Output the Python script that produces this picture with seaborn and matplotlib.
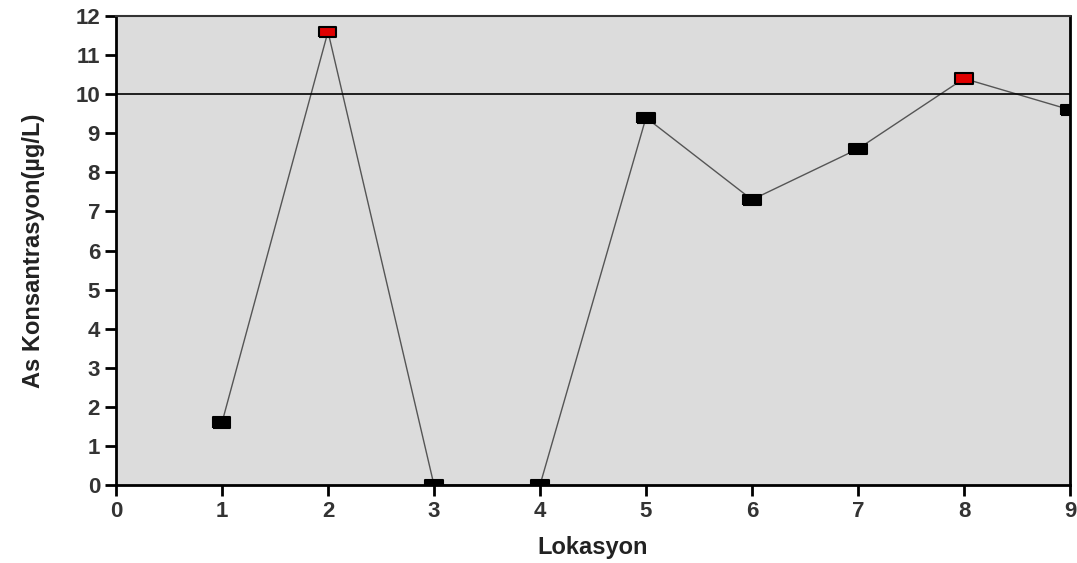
import matplotlib
matplotlib.use("Agg")
import matplotlib.pyplot as plt
import seaborn as sns
import pandas as pd

lokasyon = [1, 2, 3, 4, 5, 6, 7, 8, 9]
konsantrasyon = [1.6, 11.6, 0.0, 0.0, 9.4, 7.3, 8.6, 10.4, 9.6]
limit = 10
x_ticks = list(range(0, 10))
y_ticks = list(range(0, 13))

df = pd.DataFrame({"Lokasyon": lokasyon, "As": konsantrasyon})
df["asim"] = df["As"] > limit

sns.set_style("white")
plt.rcParams['font.family'] = ['Liberation Sans', 'DejaVu Sans']

fig = plt.figure(figsize=(10.77, 5.63), dpi=100)
ax = fig.add_axes([0.1077, 0.1385, 0.8858, 0.8331])
ax.set_facecolor("#dcdcdc")

sns.lineplot(data=df, x="Lokasyon", y="As", ax=ax, color="#555555", linewidth=1.0)
rect = [(-1, -0.6), (1, -0.6), (1, 0.6), (-1, 0.6), (-1, -0.6)]
sns.scatterplot(data=df, x="Lokasyon", y="As", hue="asim", palette={False: "black", True: "#e00000"},
                marker=rect, s=150, edgecolor="black", linewidth=1.5, ax=ax, legend=False, zorder=5)
ax.axhline(limit, color="black", linewidth=1.2)

ax.set_xlim(0, 9)
ax.set_ylim(0, 12)
ax.set_xticks(x_ticks)
ax.set_yticks(y_ticks)
ax.tick_params(direction="out", length=8, width=2, labelsize=16, colors="black", bottom=True, left=True)
for lab in ax.get_xticklabels() + ax.get_yticklabels():
    lab.set_fontweight("bold")
    lab.set_color("#333333")
for side in ["left", "bottom", "right"]:
    ax.spines[side].set_linewidth(2)
    ax.spines[side].set_color("black")
ax.spines["top"].set_linewidth(1.5)
ax.spines["top"].set_color("#333333")

ax.set_xlabel("Lokasyon", fontsize=17, fontweight="bold", labelpad=10, color="#222222")
ax.set_ylabel("As Konsantrasyon(µg/L)", fontsize=17, fontweight="bold", labelpad=22, color="#222222")

fig.savefig("out.png", dpi=100)
